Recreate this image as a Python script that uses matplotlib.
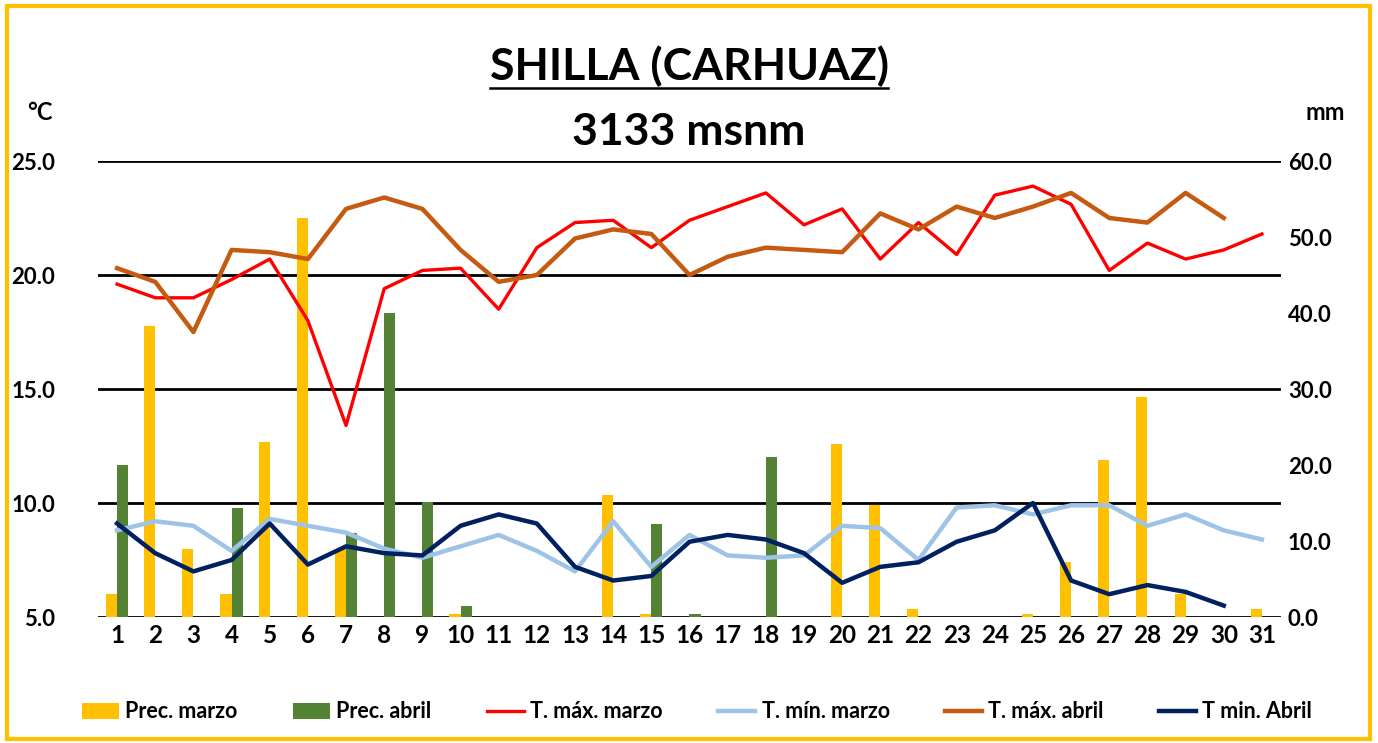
# -*- coding: utf-8 -*-
"""Shilla (Carhuaz): precipitacion y temperaturas diarias, marzo y abril."""
import numpy as np
import matplotlib
matplotlib.use("Agg")
import matplotlib.pyplot as plt
from matplotlib.lines import Line2D
from matplotlib.patches import Rectangle

plt.rcParams["font.family"] = ["Lato", "DejaVu Sans"]
plt.rcParams["font.weight"] = "bold"

dias = np.arange(1, 32)
prec_marzo = [3.0, 38.3, 9.0, 3.0, 23.0, 52.5, 9.0, 0, 0, 0.4, 0, 0, 0, 16.1, 0.4, 0,
              0, 0, 0, 22.7, 14.8, 1.0, 0, 0, 0.4, 7.2, 20.7, 29.0, 3.0, 0, 1.0]
prec_abril = [20.0, 0, 0, 14.4, 0, 0, 11.0, 40.0, 15.1, 1.4, 0, 0, 0, 0, 12.3, 0.4,
              0, 21.0, 0, 0, 0, 0, 0, 0, 0, 0, 0, 0, 0, 0, 0]
tmax_marzo = [19.6, 19.0, 19.0, 19.8, 20.7, 18.0, 13.4, 19.4, 20.2, 20.3, 18.5, 21.2,
              22.3, 22.4, 21.2, 22.4, 23.0, 23.6, 22.2, 22.9, 20.7, 22.3, 20.9, 23.5,
              23.9, 23.1, 20.2, 21.4, 20.7, 21.1, 21.8]
tmin_marzo = [8.8, 9.2, 9.0, 7.9, 9.3, 9.0, 8.7, 8.0, 7.6, 8.1, 8.6, 7.9, 7.0, 9.2,
              7.2, 8.6, 7.7, 7.6, 7.7, 9.0, 8.9, 7.5, 9.8, 9.9, 9.5, 9.9, 9.9, 9.0,
              9.5, 8.8, 8.4]
tmax_abril = [20.3, 19.7, 17.5, 21.1, 21.0, 20.7, 22.9, 23.4, 22.9, 21.1, 19.7, 20.0,
              21.6, 22.0, 21.8, 20.0, 20.8, 21.2, 21.1, 21.0, 22.7, 22.0, 23.0, 22.5,
              23.0, 23.6, 22.5, 22.3, 23.6, 22.5, np.nan]
tmin_abril = [9.1, 7.8, 7.0, 7.5, 9.1, 7.3, 8.1, 7.8, 7.7, 9.0, 9.5, 9.1, 7.2, 6.6,
              6.8, 8.3, 8.6, 8.4, 7.8, 6.5, 7.2, 7.4, 8.3, 8.8, 10.0, 6.6, 6.0, 6.4,
              6.1, 5.5, np.nan]

W, H = 1378, 743
fig = plt.figure(figsize=(W / 100, H / 100), dpi=100)
ax_p = fig.add_axes([98 / W, 1 - 617 / H, (1281 - 98) / W, (617 - 161) / H])
ax_t = ax_p.twinx()
ax_p.set_zorder(0); ax_t.set_zorder(1)
ax_t.patch.set_visible(False)
ax_p.yaxis.tick_right(); ax_t.yaxis.tick_left()

ax_t.set_ylim(5, 25)
ax_p.set_ylim(0, 60)
ax_p.set_xlim(0.5, 31.5)

# lineas de division (escala de temperatura) detras de las barras
for t in range(5, 26, 5):
    ax_p.plot([0, 1], [t, t], transform=ax_t.get_yaxis_transform(),
              color="black", lw=2, zorder=0)

bw = 0.29
ax_p.bar(dias - bw / 2, prec_marzo, width=bw, color="#FFC000", zorder=2, label="Prec. marzo")
ax_p.bar(dias + bw / 2, prec_abril, width=bw, color="#548235", zorder=2, label="Prec. abril")

ax_t.plot(dias, tmax_marzo, color="#FF0000", lw=2.4, label="T. máx. marzo")
ax_t.plot(dias, tmin_marzo, color="#9DC3E6", lw=3.2, label="T. mín. marzo")
ax_t.plot(dias, tmax_abril, color="#C55A11", lw=3.2, label="T. máx. abril")
ax_t.plot(dias, tmin_abril, color="#002060", lw=3.2, label="T min. Abril")

ax_t.set_yticks(range(5, 26, 5))
ax_t.set_yticklabels([f"{v:.1f}" for v in range(5, 26, 5)])
ax_p.set_yticks(range(0, 61, 10))
ax_p.set_yticklabels([f"{v:.1f}" for v in range(0, 61, 10)])
ax_p.set_xticks(dias)
ax_p.set_xticklabels([str(d) for d in dias])
ax_t.tick_params(axis="y", length=0, pad=31, labelsize=16)
ax_p.tick_params(axis="y", length=0, pad=5, labelsize=16)
ax_p.tick_params(axis="x", length=0, pad=5, labelsize=17.5)
for a in (ax_p, ax_t):
    for s in a.spines.values():
        s.set_visible(False)

titulo = fig.text(689 / W, 1 - 66 / H, "SHILLA (CARHUAZ)", fontsize=32,
                  fontweight="bold", ha="center", va="center")
fig.text(689 / W, 1 - 132 / H, "3133 msnm", fontsize=32, fontweight="bold",
         ha="center", va="center")
fig.text(40 / W, 1 - 112 / H, "°C", fontsize=17, fontweight="bold", ha="center", va="center")
fig.text(1325 / W, 1 - 113 / H, "mm", fontsize=17, fontweight="bold", ha="center", va="center")

# subrayado del titulo
fig.canvas.draw()
bb = titulo.get_window_extent(fig.canvas.get_renderer())
fig.add_artist(Line2D([bb.x0 / W, bb.x1 / W], [(bb.y0 - 1) / H] * 2,
                      transform=fig.transFigure, color="black", lw=1.8))

h1, l1 = ax_p.get_legend_handles_labels()
h2, l2 = ax_t.get_legend_handles_labels()
fig.legend(h1 + h2, l1 + l2, loc="center", bbox_to_anchor=(697 / W, 1 - 712 / H),
           ncol=6, frameon=False, fontsize=15.5, handlelength=1.75, handleheight=0.75,
           handletextpad=0.28, columnspacing=2.55)

fig.add_artist(Rectangle((7 / W, 4 / H), 1363 / W, 733 / H, transform=fig.transFigure,
                         fill=False, edgecolor="#FFC000", lw=3))

fig.savefig("out.png", dpi=100)
print("grafico guardado")
